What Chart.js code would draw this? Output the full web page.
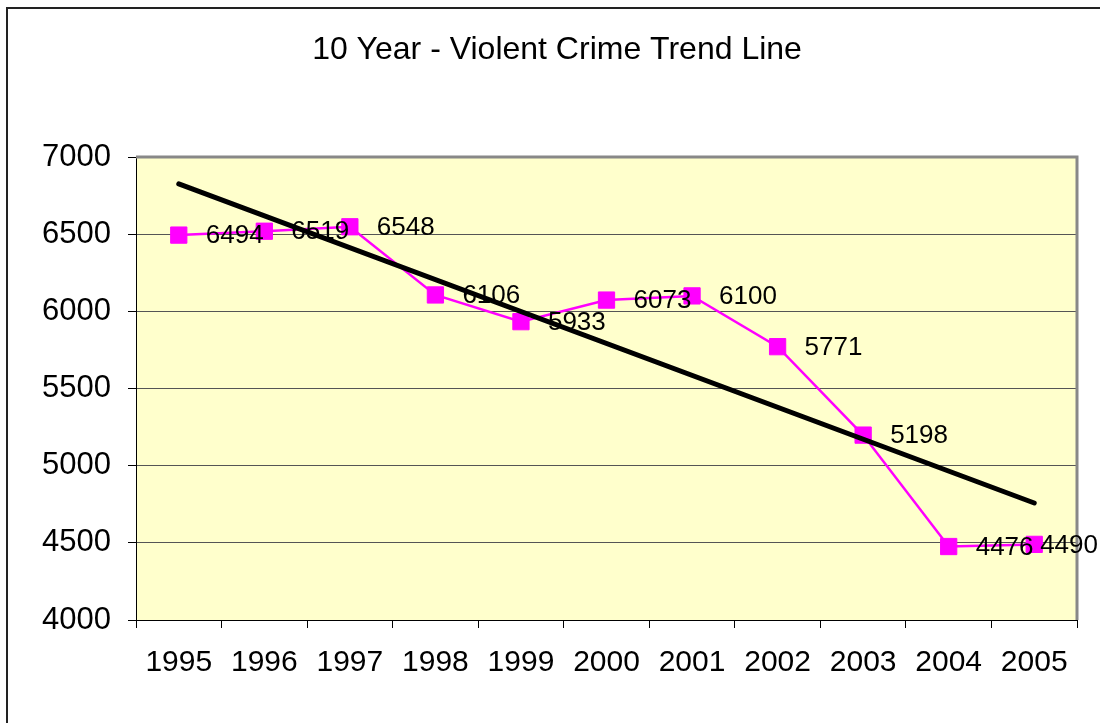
<!DOCTYPE html>
<html>
<head>
<meta charset="utf-8">
<script src="https://cdn.jsdelivr.net/npm/chart.js@4/dist/chart.umd.min.js"></script>
<style>
  html, body { margin: 0; padding: 0; background: #fff; overflow: hidden; }
  #wrap { position: relative; width: 1100px; height: 723px; }
  #frame { position: absolute; left: 6px; top: 7px; width: 1200px; height: 800px;
           border-left: 2px solid #222; border-top: 2px solid #222; }
  canvas { position: absolute; left: 0; top: 0; }
</style>
</head>
<body>
<div id="wrap">
  <div id="frame"></div>
  <canvas id="crimeChart" width="1100" height="723"></canvas>
</div>
<script>
// Values
const years = ["1995", "1996", "1997", "1998", "1999", "2000", "2001", "2002", "2003", "2004", "2005"];
const violentCrimes = [6494, 6519, 6548, 6106, 5933, 6073, 6100, 5771, 5198, 4476, 4490];
// Trend line end points (1995 and 2005)
const trendEnds = [6826, 4758];
const yTicks = [4000, 4500, 5000, 5500, 6000, 6500, 7000];
const chartTitle = "10 Year - Violent Crime Trend Line";

const trendData = years.map((y, i) =>
  i === 0 ? trendEnds[0] : i === years.length - 1 ? trendEnds[1] : null
);

const FONT = "'Liberation Sans', Arial, sans-serif";

// Yellow plot background, gray frame on top and right, and the title
const plotFrame = {
  id: "plotFrame",
  beforeDraw(chart) {
    const { ctx, chartArea: a } = chart;
    ctx.save();
    ctx.fillStyle = "#FFFFCC";
    ctx.fillRect(a.left, a.top, a.right - a.left, a.bottom - a.top);
    ctx.font = "32px " + FONT;
    ctx.fillStyle = "#000";
    ctx.textAlign = "center";
    ctx.textBaseline = "middle";
    ctx.fillText(chartTitle, 557, 50);
    ctx.restore();
  },
  beforeDatasetsDraw(chart) {
    const { ctx, chartArea: a } = chart;
    ctx.save();
    ctx.strokeStyle = "#888";
    ctx.lineWidth = 3;
    ctx.beginPath();
    ctx.moveTo(a.left, a.top);
    ctx.lineTo(a.right, a.top);
    ctx.lineTo(a.right, a.bottom);
    ctx.stroke();
    ctx.restore();
  },
};

// Value labels to the right of each marker, kept inside the frame
const valueLabels = {
  id: "valueLabels",
  afterDatasetsDraw(chart) {
    const { ctx } = chart;
    const meta = chart.getDatasetMeta(0);
    ctx.save();
    ctx.font = "26px " + FONT;
    ctx.fillStyle = "#000";
    ctx.textAlign = "left";
    ctx.textBaseline = "middle";
    meta.data.forEach((pt, i) => {
      const txt = String(violentCrimes[i]);
      const w = ctx.measureText(txt).width;
      const x = Math.min(pt.x + 27, chart.width - 2 - w);
      ctx.fillText(txt, x, pt.y + 1);
    });
    ctx.restore();
  },
};

new Chart(document.getElementById("crimeChart"), {
  type: "line",
  data: {
    labels: years,
    datasets: [
      {
        label: "Violent Crime",
        data: violentCrimes,
        borderColor: "#FF00FF",
        backgroundColor: "#FF00FF",
        borderWidth: 2.5,
        pointStyle: "rect",
        pointRadius: 11.5,
        pointBorderWidth: 1,
        pointBackgroundColor: "#FF00FF",
        pointBorderColor: "#FF00FF",
        tension: 0,
        order: 2,
      },
      {
        label: "Trend",
        data: trendData,
        borderColor: "#000",
        borderWidth: 5,
        borderCapStyle: "round",
        pointRadius: 0,
        spanGaps: true,
        order: 1,
      },
    ],
  },
  options: {
    responsive: false,
    animation: false,
    layout: { padding: { top: 157, right: 23, bottom: 0, left: 0 } },
    plugins: {
      legend: { display: false },
      tooltip: { enabled: false },
      title: { display: false },
    },
    scales: {
      x: {
        offset: true,
        grid: {
          offset: true,
          drawOnChartArea: false,
          drawTicks: true,
          tickLength: 8,
          tickColor: "#000",
        },
        border: { color: "#000", width: 1 },
        ticks: {
          color: "#000",
          font: { family: FONT, size: 30 },
          padding: 17,
          maxRotation: 0,
          autoSkip: false,
        },
        afterFit(scale) { scale.height = 103; },
      },
      y: {
        min: 4000,
        max: 7000,
        afterBuildTicks(scale) { scale.ticks = yTicks.map(v => ({ value: v })); },
        grid: {
          color: "#555",
          lineWidth: 1,
          tickLength: 8,
          tickColor: "#000",
        },
        border: { color: "#000", width: 1 },
        ticks: {
          color: "#000",
          font: { family: FONT, size: 31 },
          padding: 17,
          callback: (v) => String(v),
        },
        afterFit(scale) { scale.width = 136; },
      },
    },
  },
  plugins: [plotFrame, valueLabels],
});
</script>
</body>
</html>
